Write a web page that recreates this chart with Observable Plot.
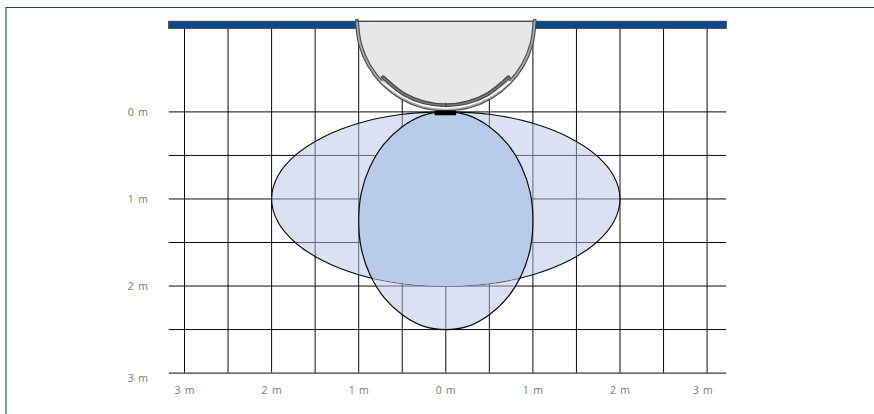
<!DOCTYPE html>
<html><head><meta charset="utf-8">
<script src="https://cdn.jsdelivr.net/npm/d3@7"></script>
<script src="https://cdn.jsdelivr.net/npm/@observablehq/plot@0.6"></script>
<style>
html,body{margin:0;padding:0;background:#fff;overflow:hidden}
#frame{position:absolute;left:5px;top:7px;width:869px;height:407px;box-sizing:border-box;border-top:1px solid #1c4163;border-left:2px solid #7c9bc2}
#chart{position:absolute;left:0;top:0}
svg text{word-spacing:1.6px}
</style></head><body>
<div id="frame"></div><div id="chart"></div>
<script>
// Grid positions in metres
const gridX = [-3,-2.5,-2,-1.5,-1,-0.5,0,0.5,1,1.5,2,2.5,3];
const gridY = [0,0.5,1,1.5,2,2.5,3];
const gridXExtent = [-3.175,3.225];
const gridYExtent = [-0.96,3];
// Tick labels
const xTickAt = [-3,-2,-1,0,1,2,2.95];
const xTickText = ["3 m","2 m","1 m","0 m","1 m","2 m","3 m"];
const yTickAt = [0,1,2,3.05];
const yTickText = ["0 m","1 m","2 m","3 m"];
// Lateral detection range (wide ellipse)
const wideX = [0,0.52,1,1.41,1.73,1.93,2,1.93,1.73,1.41,1,0.52,0,-0.52,-1,-1.41,-1.73,-1.93,-2,-1.93,-1.73,-1.41,-1,-0.52];
const wideY = [0,0.03,0.13,0.29,0.5,0.74,1,1.26,1.5,1.71,1.87,1.97,2,1.97,1.87,1.71,1.5,1.26,1,0.74,0.5,0.29,0.13,0.03];
// Head-on detection range (tall ellipse)
const tallX = [0,0.26,0.5,0.71,0.87,0.97,1,0.97,0.87,0.71,0.5,0.26,0,-0.26,-0.5,-0.71,-0.87,-0.97,-1,-0.97,-0.87,-0.71,-0.5,-0.26];
const tallY = [0,0.04,0.17,0.37,0.63,0.93,1.25,1.57,1.87,2.13,2.33,2.46,2.5,2.46,2.33,2.13,1.87,1.57,1.25,0.93,0.63,0.37,0.17,0.04];
// Overlap of the two ranges
const overlapX = [0,0.174,0.342,0.5,0.643,0.766,0.866,0.94,0.985,1,0.985,0.94,0.866,0.851,0.684,0.518,0.347,0.174,0,-0.174,-0.347,-0.518,-0.684,-0.851,-0.866,-0.94,-0.985,-1,-0.985,-0.94,-0.866,-0.766,-0.643,-0.5,-0.342,-0.174];
const overlapY = [0,0.019,0.075,0.167,0.292,0.447,0.625,0.822,1.033,1.25,1.467,1.678,1.875,1.905,1.94,1.966,1.985,1.996,2,1.996,1.985,1.966,1.94,1.905,1.875,1.678,1.467,1.25,1.033,0.822,0.625,0.447,0.292,0.167,0.075,0.019];
// Wall bar
const wallX = [-3.175,3.225];
const wallY = [-1.033,-0.955];
// Detector housing
const bodyX = [-1.02,-0.985,-0.883,-0.721,-0.51,-0.264,0,0.264,0.51,0.721,0.883,0.985,1.02];
const bodyY = [-1.046,-0.782,-0.536,-0.325,-0.163,-0.061,-0.032,-0.061,-0.163,-0.325,-0.536,-0.782,-1.046];
const gapX = [-0.73,-0.5,-0.259,0,0.259,0.5,0.73];
const gapY = [-0.345,-0.18,-0.08,-0.046,-0.08,-0.18,-0.345];
const lensX = [-0.721,-0.485,-0.251,0,0.251,0.485,0.721];
const lensY = [-0.397,-0.206,-0.109,-0.076,-0.109,-0.206,-0.397];
const sensorX = [-0.125,0.125];
const sensorY = [-0.01,0.045];
const lensTickY = [-0.1,-0.055];

const pts = (xs,ys)=>xs.map((x,i)=>({x,y:ys[i]}));
const ink="#0a0a0a", textColor="#77787b", housing="#46484c";
const lineOpt={x:"x",y:"y",curve:"catmull-rom"};
const tickFont={fill:textColor,fontSize:10.5,fontWeight:400,fontFamily:"'Open Sans'"};
const chart = Plot.plot({
  width:874,height:414,margin:0,
  style:{background:"transparent",overflow:"visible"},
  x:{type:"linear",domain:[-3,3],range:[184,706.6],axis:null},
  y:{type:"linear",domain:[0,3],range:[111.4,372.6],axis:null},
  marks:[
    Plot.ruleX(gridX,{x:d=>d,y1:gridYExtent[0],y2:gridYExtent[1],stroke:ink,strokeWidth:1}),
    Plot.ruleY(gridY,{y:d=>d,x1:gridXExtent[0],x2:gridXExtent[1],stroke:ink,strokeWidth:1}),
    Plot.line(pts(wideX,wideY),{x:"x",y:"y",curve:"catmull-rom-closed",fill:"#b3c3e5",fillOpacity:0.5,stroke:ink,strokeWidth:1.1}),
    Plot.line(pts(tallX,tallY),{x:"x",y:"y",curve:"catmull-rom-closed",fill:"#b3c3e5",fillOpacity:0.5,stroke:"none"}),
    Plot.line(pts(overlapX,overlapY),{x:"x",y:"y",curve:"linear",fill:"#b8cce9",stroke:"none"}),
    Plot.line(pts(tallX,tallY),{x:"x",y:"y",curve:"catmull-rom-closed",fill:"none",stroke:ink,strokeWidth:1.2}),
    Plot.rect([0],{x1:wallX[0],x2:wallX[1],y1:wallY[0],y2:wallY[1],fill:"#004a93",stroke:housing,strokeWidth:1.3}),
    Plot.line(pts(bodyX,bodyY),{x:"x",y:"y",curve:"catmull-rom",fill:"#e6e7e8",stroke:"none"}),
    Plot.line(pts(bodyX,bodyY),{...lineOpt,fill:"none",stroke:housing,strokeWidth:4}),
    Plot.line(pts(bodyX,bodyY),{...lineOpt,fill:"none",stroke:"#a7a9ac",strokeWidth:1.8}),
    Plot.line(pts(gapX,gapY),{...lineOpt,fill:"none",stroke:"#fff",strokeWidth:2.2}),
    Plot.line(pts(lensX,lensY),{...lineOpt,fill:"none",stroke:housing,strokeWidth:4}),
    Plot.line(pts(lensX,lensY),{...lineOpt,fill:"none",stroke:"#77787b",strokeWidth:1.6}),
    Plot.ruleX([0],{y1:lensTickY[0],y2:lensTickY[1],stroke:housing,strokeWidth:1}),
    Plot.ruleY([-1.04],{x1:-1.02,x2:1.02,stroke:housing,strokeWidth:1.3}),
    Plot.rect([0],{x1:sensorX[0],x2:sensorX[1],y1:sensorY[0],y2:sensorY[1],fill:"#000",rx:1}),
    Plot.text(xTickText,{x:(d,i)=>xTickAt[i],y:3.2,text:d=>d,...tickFont,textAnchor:"middle"}),
    Plot.text(yTickText,{x:-3.42,y:(d,i)=>yTickAt[i],text:d=>d,...tickFont,textAnchor:"end",dy:1})
  ]
});
document.getElementById("chart").append(chart);
</script>
</body></html>
